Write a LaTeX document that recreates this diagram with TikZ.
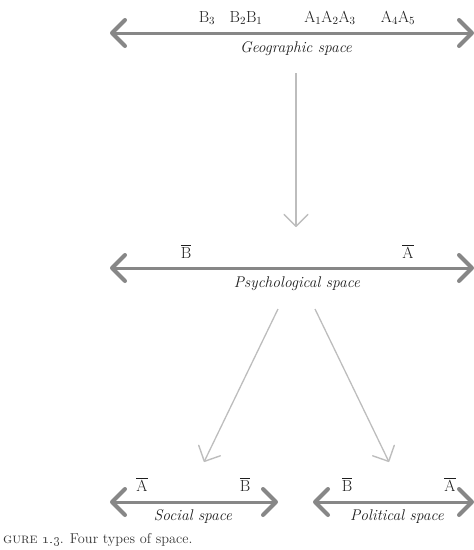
\documentclass[tikz,border=0pt]{standalone}
\usetikzlibrary{arrows.meta}
\definecolor{thickgray}{HTML}{878787}
\definecolor{thingray}{HTML}{BDBDBD}
\definecolor{ink}{HTML}{1E1E1E}
\begin{document}
\begin{tikzpicture}[x=1pt,y=-1pt,
  spacearrow/.style={draw=thickgray,line width=3pt,
    {Straight Barb[length=13pt,width=26pt,line width=4pt,round]}-{Straight Barb[length=13pt,width=26pt,line width=4pt,round]}},
  flowarrow/.style={draw=thingray,line width=1.3pt,
    -{Straight Barb[length=12pt,width=24pt,line width=1.4pt,round]}},
  pointlbl/.style={anchor=base,inner sep=0pt,text=ink,font=\fontsize{16}{18}\selectfont},
  spacelbl/.style={anchor=base,inner sep=0pt,text=ink,font=\fontsize{15.5}{18}\selectfont\itshape},
  captionlbl/.style={anchor=base west,inner sep=0pt,text=ink!90,font=\fontsize{14.3}{16}\selectfont}]
\useasboundingbox (0,0) rectangle (474,550);

% Geographic space
\coordinate (gL) at (110,33);
\coordinate (gR) at (474,33);
\draw[spacearrow] (gL) -- (gR);
\node[pointlbl] (b3) at (207,22) {B$_3$};
\node[pointlbl] (b21) at (246,22) {B$_2$B$_1$};
\node[pointlbl] (a123) at (330,22) {A$_1$A$_2$A$_3$};
\node[pointlbl] (a45) at (398,22) {A$_4$A$_5$};
\node[spacelbl] (geo) at (296,52) {Geographic space};

% arrow down
\coordinate (d1) at (296,73);
\coordinate (d2) at (296,227);
\draw[flowarrow] (d1) -- (d2);

% Psychological space
\coordinate (pL) at (110,268);
\coordinate (pR) at (474,268);
\draw[spacearrow] (pL) -- (pR);
\node[pointlbl] (pb) at (186,258) {$\overline{\mbox{B}}$};
\node[pointlbl] (pa) at (408,258) {$\overline{\mbox{A}}$};
\node[spacelbl] (psy) at (297,287) {Psychological space};

% diagonal arrows
\coordinate (l1) at (278,309);
\coordinate (l2) at (204,462);
\draw[flowarrow] (l1) -- (l2);
\coordinate (r1) at (315,309);
\coordinate (r2) at (389,462);
\draw[flowarrow] (r1) -- (r2);

% Social space
\coordinate (sL) at (110,502);
\coordinate (sR) at (278,502);
\draw[spacearrow] (sL) -- (sR);
\node[pointlbl] (sa) at (142,491) {$\overline{\mbox{A}}$};
\node[pointlbl] (sb) at (245,491) {$\overline{\mbox{B}}$};
\node[spacelbl] (soc) at (193,520) {Social space};

% Political space
\coordinate (oL) at (313,502);
\coordinate (oR) at (474,502);
\draw[spacearrow] (oL) -- (oR);
\node[pointlbl] (ob) at (347,491) {$\overline{\mbox{B}}$};
\node[pointlbl] (oa) at (450,491) {$\overline{\mbox{A}}$};
\node[spacelbl] (pol) at (397,520) {Political space};

% caption
\node[captionlbl] (cap) at (3,543) {{\scshape gure} \oldstylenums{1.3}. Four types of space.};
\end{tikzpicture}
\end{document}
